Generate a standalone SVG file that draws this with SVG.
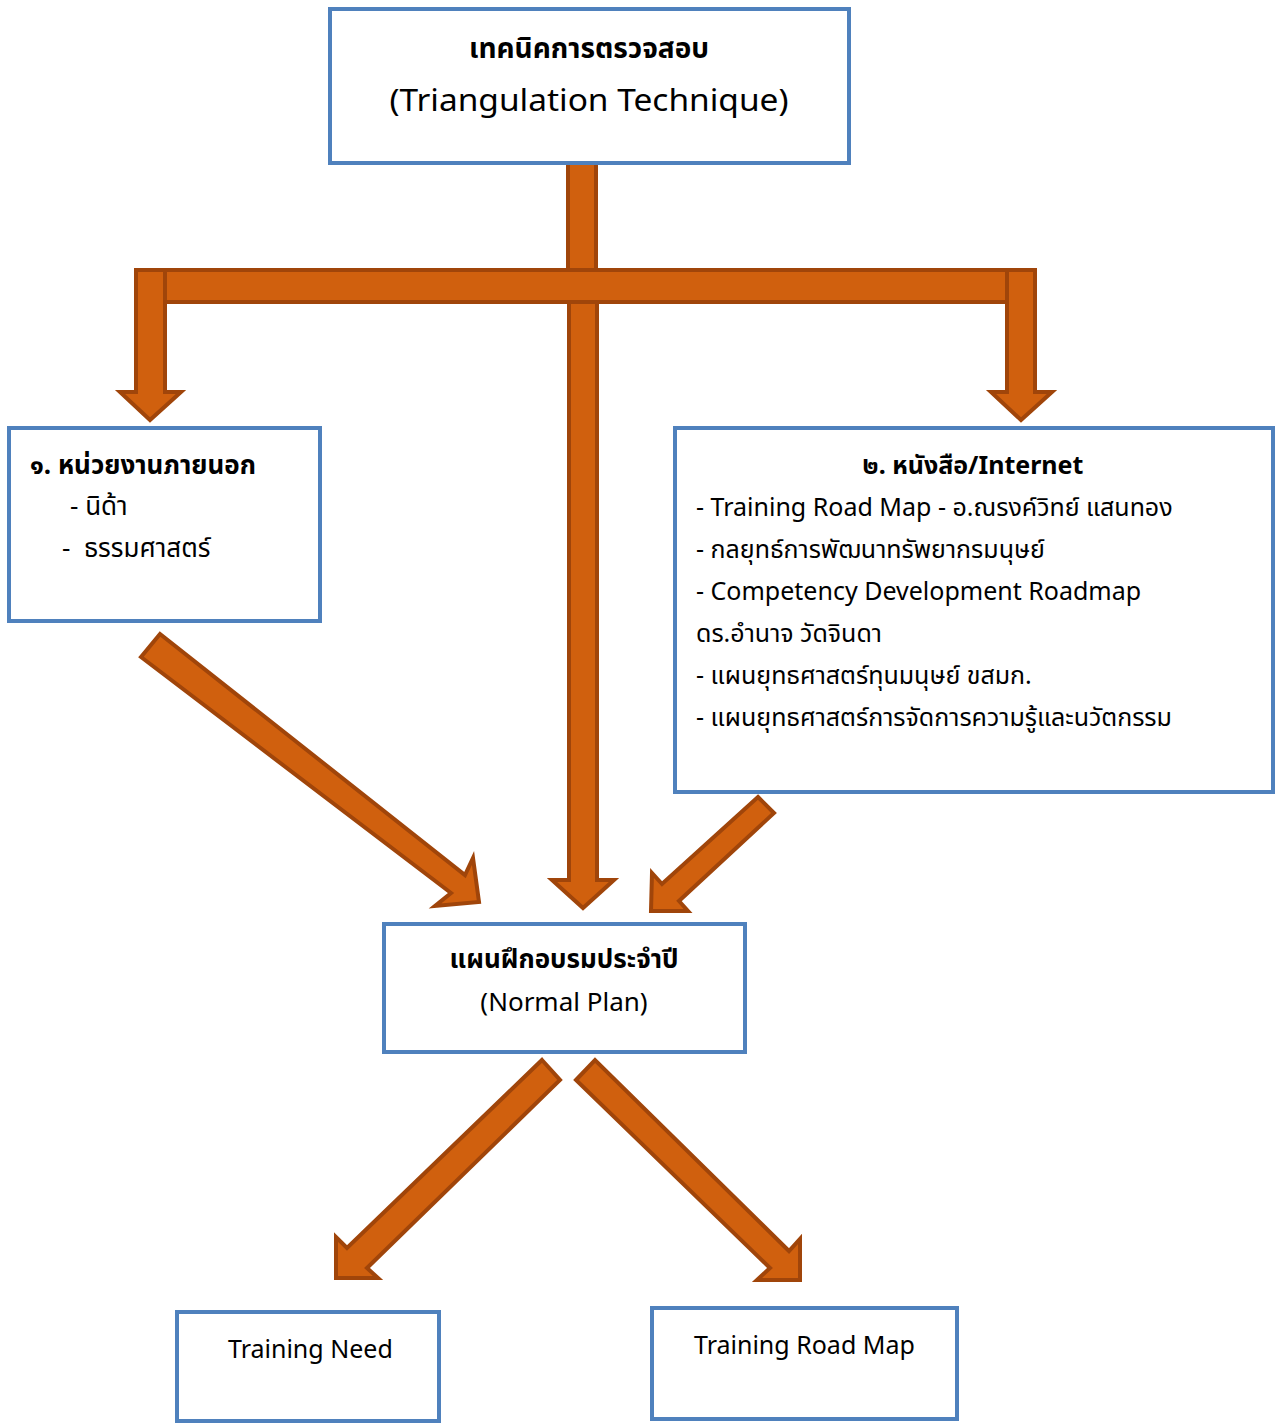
<svg xmlns="http://www.w3.org/2000/svg" width="1280" height="1427" viewBox="0 0 1280 1427">
<style>
.box{fill:#fff;stroke:#4F81BD;stroke-width:4}
.arr{fill:#D0600E;stroke:#A0450A;stroke-width:4;stroke-linejoin:miter}
text{font-family:"Noto Sans","Noto Sans Thai",Loma,Garuda,sans-serif;fill:#000;white-space:pre}
.b{font-weight:bold}
.t{font-size:25px}
</style>
<rect width="1280" height="1427" fill="#fff"/>
<g id="connectors">
<rect class="arr" x="568" y="160" width="28" height="110"/>
<path class="arr" d="M136,270 L165,270 L165,392 L181,392 L150,420 L120,392 L136,392 Z"/>
<path class="arr" d="M1007,270 L1035,270 L1035,392 L1052,392 L1021,420 L991,392 L1007,392 Z"/>
<rect class="arr" x="165" y="270" width="842" height="32"/>
<path class="arr" d="M569,302 L597,302 L597,880 L614,880 L583,908 L552,880 L569,880 Z"/>
<path class="arr" d="M141,657 L160,634 L465,875 L473,858 L479,902 L435,906 L451,893 Z"/>
<path class="arr" d="M758,797 L774,813 L679,901 L688,911 L651,911 L652,873 L662,884 Z"/>
<path class="arr" d="M542,1060 L560,1080 L367,1268 L378,1278 L336,1278 L336,1237 L347,1248 Z"/>
<path class="arr" d="M576,1080 L595,1060 L789,1251 L800,1239 L800,1280 L757,1280 L770,1268 Z"/>
</g>
<g id="node-top">
<rect class="box" x="330" y="9" width="519" height="154"/>
<text class="b" x="589" y="58" font-size="28" text-anchor="middle">เทคนิคการตรวจสอบ</text>
<text x="589" y="111" font-size="31" text-anchor="middle" textLength="399" lengthAdjust="spacingAndGlyphs">(Triangulation Technique)</text>
</g>
<g id="node-left">
<rect class="box" x="9" y="428" width="311" height="193"/>
<text class="b" x="30" y="474" font-size="26">๑. หน่วยงานภายนอก</text>
<text x="70" y="515" font-size="26">- นิด้า</text>
<text x="62" y="557" font-size="26" xml:space="preserve">-  ธรรมศาสตร์</text>
</g>
<g id="node-right">
<rect class="box" x="675" y="428" width="598" height="364"/>
<text class="b" x="973" y="474" font-size="25" text-anchor="middle">๒. หนังสือ/Internet</text>
<text class="t" x="696" y="516">- Training Road Map - อ.ณรงค์วิทย์ แสนทอง</text>
<text class="t" x="696" y="558">- กลยุทธ์การพัฒนาทรัพยากรมนุษย์</text>
<text class="t" x="696" y="600">- Competency Development Roadmap</text>
<text class="t" x="696" y="642">ดร.อำนาจ วัดจินดา</text>
<text class="t" x="696" y="684">- แผนยุทธศาสตร์ทุนมนุษย์ ขสมก.</text>
<text class="t" x="696" y="726">- แผนยุทธศาสตร์การจัดการความรู้และนวัตกรรม</text>
</g>
<g id="node-center">
<rect class="box" x="384" y="924" width="361" height="128"/>
<text class="b" x="564" y="968" font-size="26" text-anchor="middle">แผนฝึกอบรมประจำปี</text>
<text x="564" y="1011" font-size="26" text-anchor="middle">(Normal Plan)</text>
</g>
<g id="node-need">
<rect class="box" x="177" y="1312" width="262" height="109"/>
<text x="228" y="1358" font-size="25">Training Need</text>
</g>
<g id="node-roadmap">
<rect class="box" x="652" y="1308" width="305" height="111"/>
<text x="694" y="1354" font-size="25">Training Road Map</text>
</g>
</svg>
